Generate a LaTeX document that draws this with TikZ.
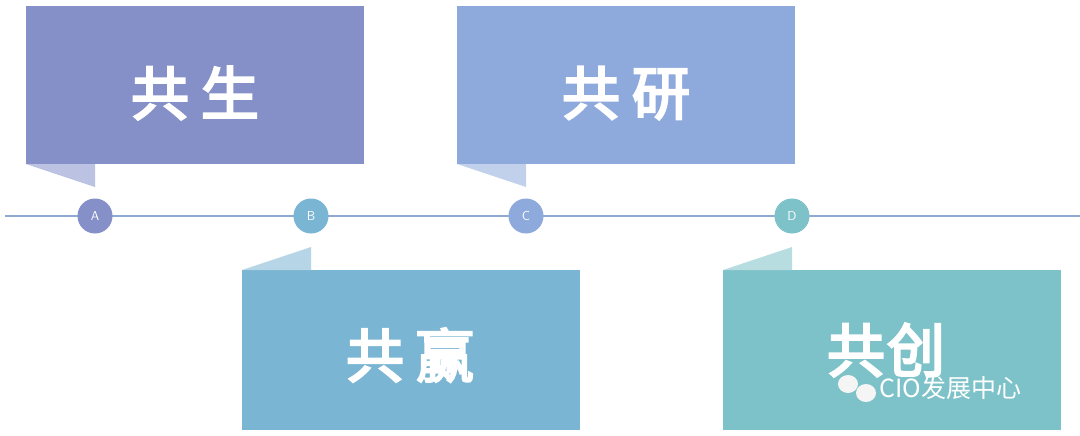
\documentclass[tikz,border=0pt]{standalone}
\usepackage{fontspec}
\newfontfamily\cjk[AutoFakeBold=4]{Noto Sans CJK SC}
\newfontfamily\cjkl{Noto Sans CJK SC}
\definecolor{cA}{HTML}{8590C8}
\definecolor{cB}{HTML}{7AB5D3}
\definecolor{cC}{HTML}{8EA9DB}
\definecolor{cD}{HTML}{7CC2C8}
\definecolor{lineC}{HTML}{8FAAD0}
\begin{document}
\begin{tikzpicture}[x=1pt,y=-1pt,
  dot/.style={circle,minimum size=35pt,inner sep=0pt,text=white,font=\sffamily\fontsize{13}{13}\selectfont},
  title/.style={text=white,font=\cjk\bfseries\fontsize{58}{58}\selectfont}]
\useasboundingbox (0,0) rectangle (1080,436);
\fill[white] (0,0) rectangle (1080,436);
% boxes
\fill[cA] (26,6) rectangle (364,164);
\fill[cA!55] (26,164) -- (95,164) -- (95,187) -- cycle;
\fill[cC] (457,6) rectangle (795,164);
\fill[cC!55] (457,164) -- (526,164) -- (526,187) -- cycle;
\fill[cB] (242,270) rectangle (580,430);
\fill[cB!55] (242,270) -- (311,247) -- (311,270) -- cycle;
\fill[cD] (723,270) rectangle (1061,430);
\fill[cD!55] (723,270) -- (792,247) -- (792,270) -- cycle;
% line
\coordinate (L0) at (5,216); \coordinate (L1) at (1080,216);
\draw[lineC,line width=2pt] (L0) -- (L1);
\node[dot,fill=cA] (A) at (95,216) {A};
\node[dot,fill=cB] (B) at (311,216) {B};
\node[dot,fill=cC] (C) at (526,216) {C};
\node[dot,fill=cD] (D) at (792,216) {D};
% titles
\node[title] (t1) at (195,93) {共\hspace{12pt}生};
\node[title] (t2) at (626,93) {共\hspace{12pt}研};
\node[title] (t3) at (410,355) {共\hspace{12pt}赢};
\node[title] (t4) at (886,350) {共\hspace{2pt}创};
% watermark
\fill[white!92!gray] (848,384) ellipse (10pt and 9pt);
\fill[white!92!gray] (866,393) ellipse (10pt and 9pt);
\node[text=white,font=\cjkl\fontsize{25}{25}\selectfont,anchor=west] (wm) at (876,388) {CIO发展中心};
\end{tikzpicture}
\end{document}
